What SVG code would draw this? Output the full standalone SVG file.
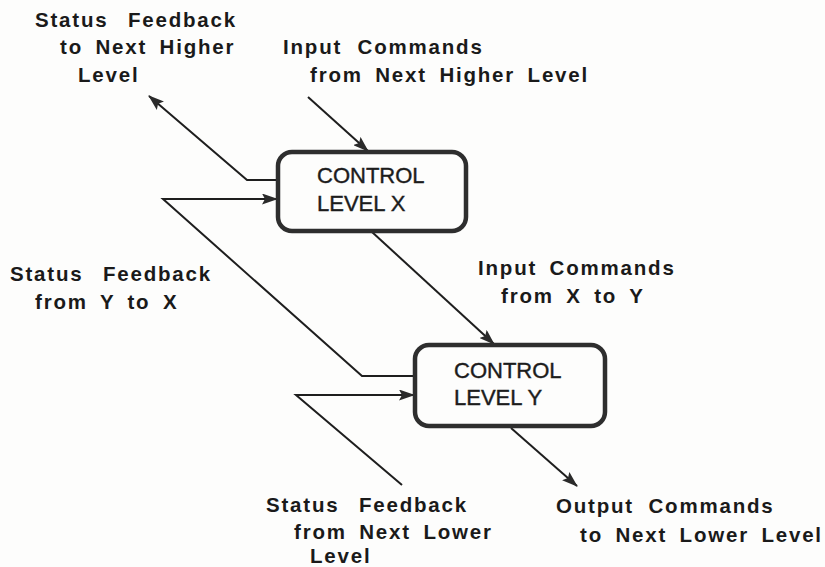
<svg xmlns="http://www.w3.org/2000/svg" width="825" height="567" viewBox="0 0 825 567">
  <style>
    .lbl { font-family: "Liberation Sans", Arial, sans-serif; font-weight: bold; font-size: 20.5px; letter-spacing: 1.8px; word-spacing: 5px; fill: #1a1a1a; }
    .wide { word-spacing: 12px; }
    .box { fill: none; stroke: #2e2e2e; stroke-width: 4.5; }
    .boxtxt { font-family: "Liberation Sans", Arial, sans-serif; font-size: 22px; fill: #1c1c1c; stroke: #1c1c1c; stroke-width: 0.4; }
    .wire { fill: none; stroke: #1e1e1e; stroke-width: 2; stroke-linejoin: miter; }
    .arr { marker-end: url(#head); }
  </style>
  <defs>
    <marker id="head" viewBox="0 0 16 11" refX="15" refY="5.5" markerWidth="16" markerHeight="11" markerUnits="userSpaceOnUse" orient="auto">
      <path d="M0,0 L16,5.5 L0,11 L3,5.5 z" fill="#2a2a2a"/>
    </marker>
  </defs>
  <rect width="825" height="567" fill="#fdfdfc"/>

  <!-- connectors -->
  <g id="connectors">
    <polyline class="wire arr" points="278,180 247,180 149,96"/>
    <polyline class="wire arr" points="308,97 368,151"/>
    <polyline class="wire arr" points="415,376 362,376 163,199 277,199"/>
    <polyline class="wire arr" points="372,232 494,344"/>
    <polyline class="wire arr" points="402,485 296,395 414,395"/>
    <polyline class="wire arr" points="511,428 577,486"/>
  </g>

  <!-- control levels -->
  <g id="control-x">
    <rect class="box" x="278" y="152" width="188" height="79" rx="14"/>
    <text class="boxtxt" x="317" y="183">CONTROL</text>
    <text class="boxtxt" x="317" y="211">LEVEL X</text>
  </g>
  <g id="control-y">
    <rect class="box" x="415" y="345" width="190" height="81" rx="14"/>
    <text class="boxtxt" x="454" y="378">CONTROL</text>
    <text class="boxtxt" x="454" y="405">LEVEL Y</text>
  </g>

  <!-- labels -->
  <g id="label-status-higher">
    <text class="lbl wide" x="35" y="27">Status Feedback</text>
    <text class="lbl" x="60" y="54">to Next Higher</text>
    <text class="lbl" x="78" y="82">Level</text>
  </g>
  <g id="label-input-higher">
    <text class="lbl" x="283" y="54" style="word-spacing:8px">Input Commands</text>
    <text class="lbl" x="310" y="82">from Next Higher Level</text>
  </g>
  <g id="label-status-y-to-x">
    <text class="lbl wide" x="10" y="281">Status Feedback</text>
    <text class="lbl" x="35" y="309">from Y to X</text>
  </g>
  <g id="label-input-x-to-y">
    <text class="lbl" x="478" y="275">Input Commands</text>
    <text class="lbl" x="501" y="303">from X to Y</text>
  </g>
  <g id="label-status-lower">
    <text class="lbl wide" x="266" y="512">Status Feedback</text>
    <text class="lbl" x="294" y="539">from Next Lower</text>
    <text class="lbl" x="310" y="563">Level</text>
  </g>
  <g id="label-output">
    <text class="lbl" x="556" y="513" style="word-spacing:7px">Output Commands</text>
    <text class="lbl" x="580" y="542">to Next Lower Level</text>
  </g>
</svg>
